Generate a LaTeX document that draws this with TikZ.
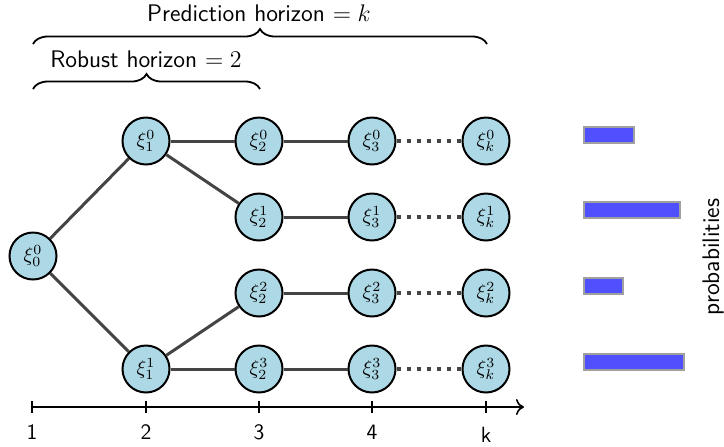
\documentclass[tikz,border=0pt]{standalone}
\usetikzlibrary{decorations.pathreplacing,arrows.meta}
\definecolor{nodefill}{RGB}{173,216,230}
\definecolor{edgecol}{RGB}{68,68,68}
\definecolor{barfill}{RGB}{80,80,255}
\definecolor{barline}{RGB}{160,160,160}
\tikzset{
  xinode/.style={circle,draw=black,line width=1pt,fill=nodefill,minimum size=23.5pt,inner sep=0pt},
  treeedge/.style={draw=edgecol,line width=1.5pt},
  dotedge/.style={draw=edgecol,line width=1.6pt,dash pattern=on 2pt off 3pt},
  bracedeco/.style={decorate,decoration={brace,amplitude=7.5pt},line width=0.9pt},
  lbl/.style={font=\fontsize{12}{14}\selectfont\sffamily},
  axlbl/.style={font=\fontsize{11}{13}\selectfont\sffamily,anchor=base,inner sep=0pt},
  probbar/.style={fill=barfill,draw=barline,line width=0.6pt}
}
\begin{document}
\begin{tikzpicture}[x=0.5pt,y=-0.5pt]
\useasboundingbox (0,0) rectangle (724,446);
% braces
\coordinate (pa) at (33,44);
\coordinate (pb) at (487,44);
\coordinate (ra) at (33,89);
\coordinate (rb) at (260,89);
\draw[bracedeco] (pa) -- (pb);
\draw[bracedeco] (ra) -- (rb);
\node[lbl] (ptext) at (259,13) {Prediction horizon $=k$};
\node[lbl] (rtext) at (146,59) {Robust horizon $=2$};
% nodes
\node[xinode] (n00) at (33,256) {$\xi_0^0$};
\node[xinode] (n10) at (146,141) {$\xi_1^0$};
\node[xinode] (n11) at (146,369) {$\xi_1^1$};
\node[xinode] (n20) at (259,141) {$\xi_2^0$};
\node[xinode] (n21) at (259,217) {$\xi_2^1$};
\node[xinode] (n22) at (259,293) {$\xi_2^2$};
\node[xinode] (n23) at (259,369) {$\xi_2^3$};
\node[xinode] (n30) at (372,141) {$\xi_3^0$};
\node[xinode] (n31) at (372,217) {$\xi_3^1$};
\node[xinode] (n32) at (372,293) {$\xi_3^2$};
\node[xinode] (n33) at (372,369) {$\xi_3^3$};
\node[xinode] (nk0) at (486,141) {$\xi_k^0$};
\node[xinode] (nk1) at (486,217) {$\xi_k^1$};
\node[xinode] (nk2) at (486,293) {$\xi_k^2$};
\node[xinode] (nk3) at (486,369) {$\xi_k^3$};
% edges
\draw[treeedge] (n00) -- (n10);
\draw[treeedge] (n00) -- (n11);
\draw[treeedge] (n10) -- (n20);
\draw[treeedge] (n10) -- (n21);
\draw[treeedge] (n11) -- (n22);
\draw[treeedge] (n11) -- (n23);
\foreach \i in {0,1,2,3} {
  \draw[treeedge] (n2\i) -- (n3\i);
  \draw[dotedge] (n3\i) -- (nk\i);
}
% axis
\coordinate (ax0) at (32,407);
\coordinate (ax1) at (524,407);
\draw[line width=0.8pt,-{To[length=4pt,width=8pt]}] (ax0) -- (ax1);
\foreach \x in {32,146,259,372,486} {
  \draw[line width=0.8pt] (\x,401) -- (\x,413);
}
\node[axlbl] (t1) at (32,439) {1};
\node[axlbl] (t2) at (146,439) {2};
\node[axlbl] (t3) at (259,439) {3};
\node[axlbl] (t4) at (372,439) {4};
\node[axlbl] (tk) at (486,442) {k};
% probability bars
\draw[probbar] (584,127) rectangle (634,143);
\draw[probbar] (584,202) rectangle (680,218);
\draw[probbar] (584,278) rectangle (623,294);
\draw[probbar] (584,354) rectangle (684,370);
\node[lbl,rotate=90] (prob) at (713,257) {probabilities};
\end{tikzpicture}
\end{document}
